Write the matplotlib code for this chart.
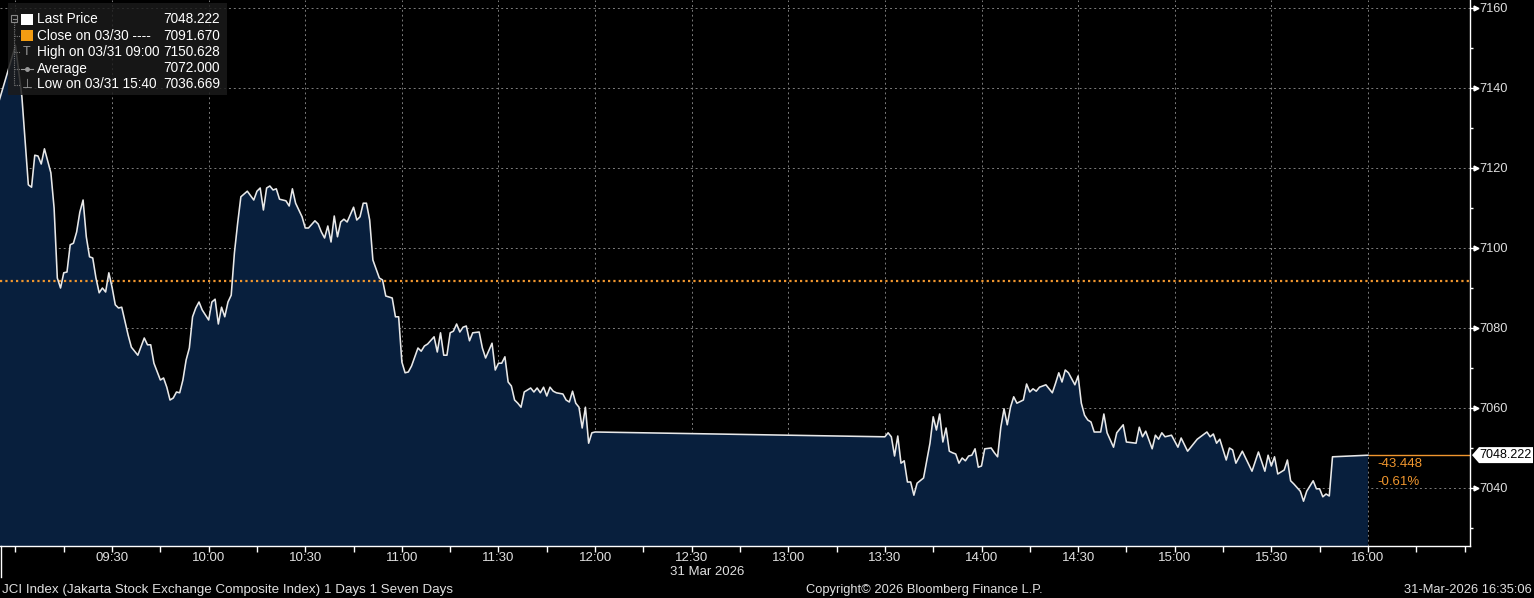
import numpy as np
import matplotlib
matplotlib.use("Agg")
import matplotlib.pyplot as plt
from matplotlib.patches import Rectangle, Polygon
from matplotlib.lines import Line2D
from matplotlib.ticker import MultipleLocator, FixedLocator, FuncFormatter
import matplotlib.transforms as mtrans

plt.rcParams["font.family"] = ["Liberation Sans", "DejaVu Sans"]
plt.rcParams["font.size"] = 9

# JCI intraday, 31 Mar 2026 -- minutes after 09:00 and index level
am_minutes = [-5, 0, 2, 4, 5, 6, 7, 8, 9, 11, 12, 13, 14, 15, 16, 17, 18, 19, 20, 21,
              22, 23, 24, 25, 26, 27, 28, 29, 30, 31, 32, 33, 35, 36, 38, 40, 41, 42, 43, 45,
              46, 47, 48, 49, 50, 51, 52, 53, 54, 55, 56, 57, 58, 60, 61, 62, 63, 64, 65, 66,
              67, 68, 69, 70, 71, 72, 74, 75, 76, 77, 78, 79, 80, 81, 82, 84, 85, 86, 87, 89,
              90, 91, 93, 94, 95, 96, 97, 98, 99, 100, 101, 102, 103, 105, 106, 107, 108, 109, 110, 111,
              113, 114, 115, 117, 118, 119, 120, 121, 122, 123, 125, 126, 127, 128, 130, 131, 132, 133, 134, 135,
              136, 137, 138, 139, 140, 141, 142, 144, 145, 146, 148, 149, 150, 151, 152, 153, 154, 155, 156, 157,
              158, 160, 161, 162, 163, 164, 165, 166, 167, 168, 170, 171, 172, 173, 174, 175, 176, 177, 178, 179,
              180]
am_prices = [7137.0, 7150.6, 7137.8, 7115.8, 7115.2, 7123.2, 7123.0, 7121.0, 7124.8, 7118.8,
             7110.0, 7092.5, 7090.0, 7093.8, 7094.0, 7100.8, 7101.2, 7104.0, 7109.0, 7112.0,
             7102.8, 7097.8, 7097.5, 7092.5, 7088.8, 7090.0, 7089.0, 7093.8, 7090.2, 7085.8,
             7085.0, 7085.2, 7078.2, 7075.2, 7073.2, 7077.5, 7075.8, 7075.8, 7071.2, 7067.0,
             7067.5, 7065.2, 7062.0, 7062.5, 7064.0, 7063.8, 7067.0, 7072.0, 7075.0, 7082.8,
             7085.0, 7086.5, 7084.5, 7082.0, 7086.5, 7087.2, 7081.0, 7085.2, 7082.8, 7086.5,
             7088.2, 7098.8, 7106.2, 7112.8, 7113.5, 7114.2, 7112.0, 7114.2, 7115.0, 7109.5,
             7115.0, 7115.5, 7114.5, 7114.8, 7112.2, 7111.8, 7110.5, 7114.8, 7111.2, 7107.8,
             7105.0, 7105.0, 7106.8, 7106.0, 7104.0, 7102.5, 7105.5, 7101.5, 7108.0, 7102.8,
             7106.5, 7107.2, 7106.5, 7110.2, 7107.0, 7107.8, 7111.2, 7111.2, 7107.0, 7097.0,
             7092.5, 7092.0, 7088.0, 7087.5, 7082.8, 7082.8, 7071.5, 7068.8, 7069.0, 7070.5,
             7075.0, 7074.2, 7075.5, 7076.0, 7077.8, 7074.0, 7078.8, 7073.2, 7073.2, 7078.8,
             7079.2, 7081.0, 7079.0, 7080.2, 7080.5, 7076.8, 7078.8, 7079.0, 7075.0, 7072.5,
             7076.2, 7069.5, 7071.2, 7071.2, 7072.8, 7066.5, 7065.5, 7062.0, 7061.2, 7060.2,
             7064.0, 7065.0, 7064.0, 7065.0, 7063.8, 7065.2, 7063.0, 7065.2, 7064.2, 7063.8,
             7063.5, 7062.0, 7061.5, 7064.2, 7061.2, 7060.2, 7055.0, 7060.2, 7051.2, 7053.8,
             7054.0]

pm_minutes = [270, 271, 272, 273, 274, 275, 276, 277, 278, 279, 280, 282, 284, 285, 286, 287, 288, 289, 290, 291,
              292, 293, 294, 295, 296, 297, 298, 299, 300, 301, 303, 304, 305, 306, 307, 308, 309, 310, 311, 313,
              314, 315, 316, 317, 318, 320, 322, 323, 324, 325, 326, 327, 329, 330, 331, 332, 333, 334, 335, 337,
              338, 339, 341, 342, 344, 345, 348, 349, 350, 351, 353, 354, 355, 356, 357, 359, 361, 362, 364, 367,
              370, 371, 372, 373, 374, 376, 377, 378, 379, 381, 384, 386, 388, 389, 390, 391, 392, 394, 395, 396,
              397, 399, 400, 401, 403, 404, 405, 406, 407, 408, 409, 420]
pm_prices = [7052.8, 7053.8, 7052.8, 7048.0, 7053.0, 7046.2, 7046.8, 7041.5, 7041.5, 7038.2,
             7041.2, 7042.5, 7051.2, 7057.8, 7054.5, 7058.5, 7051.5, 7055.0, 7049.2, 7048.8,
             7048.5, 7046.2, 7047.5, 7046.8, 7048.0, 7048.2, 7049.8, 7045.2, 7045.5, 7049.8,
             7050.0, 7048.8, 7047.8, 7055.2, 7059.8, 7055.8, 7060.2, 7062.8, 7061.2, 7062.0,
             7066.0, 7064.0, 7064.8, 7064.2, 7065.2, 7065.8, 7063.8, 7066.2, 7068.8, 7066.5,
             7069.5, 7068.8, 7065.8, 7068.0, 7061.2, 7058.2, 7057.0, 7056.5, 7054.0, 7054.0,
             7058.5, 7053.8, 7050.2, 7053.8, 7055.8, 7051.5, 7051.2, 7055.2, 7052.8, 7054.2,
             7049.8, 7053.2, 7052.2, 7053.8, 7052.8, 7053.2, 7050.2, 7052.5, 7049.2, 7052.2,
             7054.0, 7052.8, 7053.5, 7051.2, 7052.2, 7047.0, 7050.0, 7049.5, 7046.2, 7049.2,
             7044.2, 7049.0, 7044.2, 7048.2, 7045.5, 7047.8, 7043.5, 7044.5, 7047.0, 7041.8,
             7041.0, 7039.2, 7036.7, 7039.2, 7041.8, 7039.8, 7039.8, 7037.8, 7038.5, 7038.0,
             7047.8, 7048.2]

last_price = 7048.222
prev_close = 7091.670
day_high = 7150.628
day_avg = 7072.000
day_low = 7036.669

legend_labels = ["Last Price", "Close on 03/30 ----", "High on 03/31 09:00", "Average", "Low on 03/31 15:40"]
legend_values = [last_price, prev_close, day_high, day_avg, day_low]

y_ticks = [7040, 7060, 7080, 7100, 7120, 7140, 7160]

NAVY = "#081f3d"
ORANGE = "#f0962e"
GRID = "#7c7c7c"
TXT = "#e0e0e0"

W, H = 1534, 598
fig = plt.figure(figsize=(W / 100, H / 100), dpi=100, facecolor="black")
ax = fig.add_axes([0, 52 / H, 1470 / W, 1 - 52 / H])
ax.set_facecolor("black")

t = np.array(am_minutes + pm_minutes, dtype=float)
p = np.array(am_prices + pm_prices)

ax.set_xlim(-4.8, 451.7)
ax.set_ylim(7025.5, 7162)

ax.fill_between(t, p, 7000, color=NAVY, lw=0, zorder=1)
ax.plot(t, p, color="#e8e8e8", lw=1.15, zorder=3)

# previous close + last price markers
ax.axhline(prev_close, color=ORANGE, lw=1.6, ls=(0, (1, 1.4)), zorder=2)
ax.hlines(last_price, t[-1], 451.7, color=ORANGE, lw=1, zorder=2)
chg = last_price - prev_close
ax.annotate(f"{chg:.3f}", xy=(t[-1], last_price), xytext=(9, -9), textcoords="offset pixels",
            color=ORANGE, va="center", ha="left", fontsize=9.5)
ax.annotate(f"{chg / prev_close * 100:.2f}%", xy=(t[-1], last_price), xytext=(9, -27),
            textcoords="offset pixels", color=ORANGE, va="center", ha="left", fontsize=9.5)

# grid
ax.xaxis.set_major_locator(FixedLocator(np.arange(0, 421, 30)))
ax.xaxis.set_minor_locator(MultipleLocator(15))
ax.yaxis.set_major_locator(FixedLocator(y_ticks))
ax.yaxis.set_minor_locator(MultipleLocator(10))
ax.grid(True, which="major", color=GRID, ls=(0, (2, 3)), lw=0.7, zorder=0)
ax.set_axisbelow(True)


def fmt_time(m, _):
    m = int(round(m))
    if m <= 0:
        return ""
    return f"{9 + m // 60:02d}:{m % 60:02d}"


ax.xaxis.set_major_formatter(FuncFormatter(fmt_time))
ax.yaxis.tick_right()
ax.yaxis.set_label_position("right")
ax.tick_params(axis="x", which="both", direction="out", length=4, width=1, color="white",
               labelcolor=TXT, labelsize=9.5, pad=0)
ax.tick_params(axis="y", which="major", direction="out", length=3, width=1, color="white",
               labelcolor=TXT, labelsize=9.2, pad=4)
ax.tick_params(axis="y", which="minor", direction="out", length=2, width=1, color="white")
for s in ["top", "left"]:
    ax.spines[s].set_visible(False)
for s in ["bottom", "right"]:
    ax.spines[s].set_color("white")
    ax.spines[s].set_linewidth(1)

ax.plot([1 + 6 / 1470] * len(y_ticks), y_ticks, ls="none", marker=">", ms=3.5, color="white",
        transform=ax.get_yaxis_transform(), clip_on=False)

fig.canvas.draw()

# last price tag
xs, yc = ax.transData.transform((451.7, last_price))
tag = [(xs + 2, yc), (xs + 9, yc + 8), (W - 1, yc + 8), (W - 1, yc - 8), (xs + 9, yc - 8)]
fig.add_artist(Polygon(tag, closed=True, facecolor="white", edgecolor="none",
                       transform=mtrans.IdentityTransform(), zorder=6))
fig.text((xs + 9) / W, yc / H, f"{last_price:.3f}", color="black", fontsize=9,
         va="center", ha="left", zorder=7)


def fx(x):
    return x / W


def fy(y):
    return 1 - y / H


# legend block
fig.add_artist(Rectangle((fx(8), fy(95)), 219 / W, 92 / H, facecolor="#1b1b1b", alpha=0.85,
                         edgecolor="none", transform=fig.transFigure, zorder=5))
row_y = [19, 35.5, 52, 68.5, 84.5]
for i, (lab, val) in enumerate(zip(legend_labels, legend_values)):
    fig.text(fx(37), fy(row_y[i]), lab, color="white", fontsize=9.8, va="center", ha="left", zorder=7)
    fig.text(fx(220), fy(row_y[i]), f"{val:.3f}", color="white", fontsize=9.8, va="center",
             ha="right", zorder=7)

# tree lines
fig.add_artist(Line2D([fx(14), fx(14)], [fy(22), fy(85)], color="#777777", lw=0.8, ls=(0, (1, 1)),
                      transform=fig.transFigure, zorder=6))
for yy in row_y[1:]:
    fig.add_artist(Line2D([fx(14), fx(20)], [fy(yy), fy(yy)], color="#777777", lw=0.8, ls=(0, (1, 1)),
                          transform=fig.transFigure, zorder=6))
fig.add_artist(Rectangle((fx(11), fy(22)), 6 / W, 7 / H, facecolor="none", edgecolor="#888888",
                         lw=0.8, transform=fig.transFigure, zorder=6))
fig.add_artist(Line2D([fx(12.5), fx(15.5)], [fy(18.5), fy(18.5)], color="#888888", lw=0.8,
                      transform=fig.transFigure, zorder=6))
fig.add_artist(Rectangle((fx(21), fy(25)), 12 / W, 11 / H, facecolor="white", edgecolor="none",
                         transform=fig.transFigure, zorder=6))
fig.add_artist(Rectangle((fx(21), fy(41)), 12 / W, 11 / H, facecolor="#f39c12", edgecolor="none",
                         transform=fig.transFigure, zorder=6))
fig.text(fx(27), fy(52), "T", color="#9a9a9a", fontsize=9, va="center", ha="center", zorder=7)
fig.add_artist(Line2D([fx(21), fx(33)], [fy(68.5), fy(68.5)], color="#9a9a9a", lw=0.8,
                      transform=fig.transFigure, zorder=6))
fig.add_artist(Line2D([fx(27)], [fy(68.5)], color="#9a9a9a", marker="o", ms=2.5, ls="none",
                      transform=fig.transFigure, zorder=6))
fig.text(fx(27), fy(84), "\u22a5", color="#9a9a9a", fontsize=9, va="center", ha="center",
         family=["DejaVu Sans"], zorder=7)

# footer
fig.add_artist(Line2D([fx(0.5), fx(0.5)], [fy(546), fy(577)], color="white", lw=1,
                      transform=fig.transFigure))
fig.text(fx(707), fy(572), "31 Mar 2026", color=TXT, fontsize=9.5, ha="center", va="center")
fig.text(fx(2), fy(590), "JCI Index (Jakarta Stock Exchange Composite Index) 1 Days 1 Seven Days",
         color=TXT, fontsize=9.6, ha="left", va="center")
fig.text(fx(924), fy(590), "Copyright\u00a9 2026 Bloomberg Finance L.P.", color=TXT, fontsize=9.3,
         ha="center", va="center")
fig.text(fx(1532), fy(590), "31-Mar-2026 16:35:06", color=TXT, fontsize=9.3, ha="right", va="center")

fig.savefig("out.png", dpi=100, facecolor="black")
